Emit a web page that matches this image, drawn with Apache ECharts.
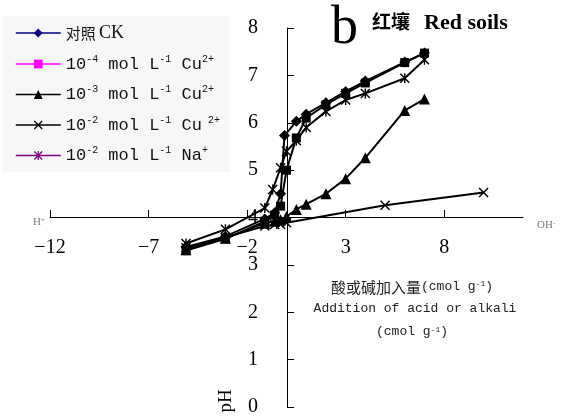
<!DOCTYPE html>
<html>
<head>
<meta charset="utf-8">
<script src="https://cdn.jsdelivr.net/npm/echarts@6/dist/echarts.min.js"></script>
<style>
  html, body { margin: 0; padding: 0; background: #fff; }
  #chart { width: 563px; height: 417px; }
</style>
</head>
<body>
<div id="chart"></div>
<script>
// 酸或碱加入量 (cmol/g), 负值为加酸
const ckX = [-5.1, -3.1, -1.1, -0.6, -0.3, -0.1, 0.5, 1, 2, 3, 4, 6, 7];
const ckPH = [3.38, 3.6, 3.97, 4.1, 4.5, 5.73, 6.03, 6.18, 6.42, 6.66, 6.88, 7.28, 7.47];

const cu4X = [-5.1, -3.1, -1.1, -0.6, -0.3, 0, 0.5, 1, 2, 3, 4, 6, 7];
const cu4PH = [3.3, 3.55, 3.92, 4.05, 4.24, 5.0, 5.68, 6.1, 6.38, 6.62, 6.84, 7.27, 7.47];

const cu3X = [-5.1, -3.1, -1.1, -0.6, -0.3, 0, 0.5, 1, 2, 3, 4, 6, 7];
const cu3PH = [3.32, 3.56, 3.88, 3.92, 3.95, 4.02, 4.17, 4.28, 4.5, 4.82, 5.26, 6.26, 6.5];

const cu2X = [-5.1, -3.1, -1.1, -0.6, -0.3, 0, 5, 10];
const cu2PH = [3.36, 3.58, 3.82, 3.85, 3.86, 3.89, 4.26, 4.53];

const naX = [-5.1, -3.1, -1.1, -0.7, -0.3, 0, 0.5, 1, 2, 3, 4, 6, 7];
const naPH = [3.45, 3.75, 4.2, 4.59, 5.05, 5.4, 5.62, 5.9, 6.24, 6.48, 6.62, 6.94, 7.33];

const xTicks = [-12, -7, -2, 3, 8];

const pairs = (xs, ys) => xs.map((x, i) => [x, ys[i]]);

const crossPath = "path://M0,1L1,0L5,4L9,0L10,1L6,5L10,9L9,10L5,6L1,10L0,9L4,5Z";
const starPath = "path://M0,1L1,0L5,4L9,0L10,1L6,5L10,9L9,10L5,6L1,10L0,9L4,5ZM4.3,0L5.7,0L5.7,10L4.3,10Z";

const legendText = {
	CK: "{cjk|对照} {ser|CK}",
	Cu4: "{m|10}{s|-4}{m| mol L}{s|-1}{m| Cu}{s|2+}",
	Cu3: "{m|10}{s|-3}{m| mol L}{s|-1}{m| Cu}{s|2+}",
	Cu2: "{m|10}{s|-2}{m| mol L}{s|-1}{m| Cu}{s| 2+}",
	Na2: "{m|10}{s|-2}{m| mol L}{s|-1}{m| Na}{s|+}"
};

const makeSeries = (name, xs, ys, symbol, size) => ({
	name: name,
	type: "line",
	data: pairs(xs, ys),
	symbol: symbol,
	symbolSize: size,
	lineStyle: { color: "#000", width: 2 },
	itemStyle: { color: "#000" },
	z: 3
});

const chart = echarts.init(document.getElementById("chart"));
chart.setOption({
	animation: false,
	backgroundColor: "#fff",
	grid: { left: 50, right: 40, top: 28, bottom: 9 },
	legend: {
		orient: "vertical",
		left: 3,
		top: 16,
		padding: [8, 10, 8, 12],
		backgroundColor: "#f7f7f7",
		itemWidth: 45,
		itemHeight: 11,
		itemGap: 12,
		formatter: name => legendText[name],
		textStyle: {
			color: "#111",
			rich: {
				cjk: { fontFamily: "Noto Sans CJK SC", fontSize: 15, lineHeight: 20 },
				ser: { fontFamily: "Liberation Serif", fontSize: 18, lineHeight: 20 },
				m: { fontFamily: "Liberation Mono", fontSize: 17, lineHeight: 20 },
				s: { fontFamily: "Liberation Mono", fontSize: 10, lineHeight: 12, verticalAlign: "top" }
			}
		},
		data: [
			{ name: "CK", itemStyle: { color: "#000080" }, lineStyle: { color: "#000080", width: 1.5 } },
			{ name: "Cu4", itemStyle: { color: "#ff00ff" }, lineStyle: { color: "#ff00ff", width: 1.5 } },
			{ name: "Cu3", itemStyle: { color: "#000" }, lineStyle: { color: "#000", width: 1.5 } },
			{ name: "Cu2", itemStyle: { color: "#000" }, lineStyle: { color: "#000", width: 1.5 } },
			{ name: "Na2", itemStyle: { color: "#800080" }, lineStyle: { color: "#800080", width: 1.5 } }
		]
	},
	xAxis: {
		type: "value",
		min: -12,
		max: 12,
		interval: 5,
		offset: -190, // x 轴画在 pH 4 处
		axisLine: { onZero: false, lineStyle: { color: "#000", width: 1 } },
		axisTick: { inside: true, length: 7, lineStyle: { color: "#000" }, customValues: xTicks },
		axisLabel: {
			customValues: xTicks,
			margin: 21,
			color: "#000",
			fontFamily: "Liberation Serif",
			fontSize: 20,
			formatter: v => String(v).replace("-", "−")
		},
		splitLine: { show: false }
	},
	yAxis: {
		type: "value",
		min: 0,
		max: 8,
		interval: 1,
		offset: -237, // y 轴画在 x = 0 处
		axisLine: { show: true, onZero: false, lineStyle: { color: "#000", width: 1 } },
		axisTick: { show: true, inside: true, length: 7, lineStyle: { color: "#000" } },
		axisLabel: {
			margin: 29,
			color: "#000",
			fontFamily: "Liberation Serif",
			fontSize: 20
		},
		splitLine: { show: false }
	},
	graphic: [
		{ type: "text", left: 331, top: 2, style: { text: "b", font: "54px 'Liberation Serif'", fill: "#000" } },
		{ type: "text", left: 372, top: 12, style: { text: "红壤", font: "bold 19px 'Noto Sans CJK SC'", fill: "#000" } },
		{ type: "text", left: 424, top: 12, style: { text: "Red soils", font: "bold 22px 'Liberation Serif'", fill: "#000" } },
		{
			type: "text", left: 33, top: 217,
			style: {
				text: "{a|H}{b|+}", fill: "#777",
				rich: { a: { fontFamily: "Liberation Serif", fontSize: 11 }, b: { fontFamily: "Liberation Serif", fontSize: 7, verticalAlign: "top" } }
			}
		},
		{
			type: "text", left: 537, top: 220,
			style: {
				text: "{a|OH}{b|-}", fill: "#777",
				rich: { a: { fontFamily: "Liberation Serif", fontSize: 11 }, b: { fontFamily: "Liberation Serif", fontSize: 7, verticalAlign: "top" } }
			}
		},
		{
			type: "text", x: 412, y: 287,
			style: {
				text: "{c|酸或碱加入量}{m|(cmol g}{s|-1}{m|)}", fill: "#222", align: "center", verticalAlign: "middle",
				rich: {
					c: { fontFamily: "Noto Sans CJK SC", fontSize: 15 },
					m: { fontFamily: "Liberation Mono", fontSize: 13 },
					s: { fontFamily: "Liberation Mono", fontSize: 8, verticalAlign: "top" }
				}
			}
		},
		{
			type: "text", x: 415, y: 309,
			style: { text: "Addition of acid or alkali", font: "13px 'Liberation Mono'", fill: "#222", align: "center", verticalAlign: "middle" }
		},
		{
			type: "text", x: 412, y: 332,
			style: {
				text: "{m|(cmol g}{s|-1}{m|)}", fill: "#222", align: "center", verticalAlign: "middle",
				rich: {
					m: { fontFamily: "Liberation Mono", fontSize: 13 },
					s: { fontFamily: "Liberation Mono", fontSize: 8, verticalAlign: "top" }
				}
			}
		},
		{
			type: "text", x: 226, y: 401, rotation: Math.PI / 2,
			style: { text: "pH", font: "19px 'Liberation Serif'", fill: "#000", align: "center", verticalAlign: "middle" }
		}
	],
	series: [
		makeSeries("Cu2", cu2X, cu2PH, crossPath, 10),
		makeSeries("Cu3", cu3X, cu3PH, "triangle", 11),
		makeSeries("Na2", naX, naPH, starPath, 10),
		makeSeries("Cu4", cu4X, cu4PH, "rect", 9),
		makeSeries("CK", ckX, ckPH, "diamond", 11)
	]
});
</script>
</body>
</html>
